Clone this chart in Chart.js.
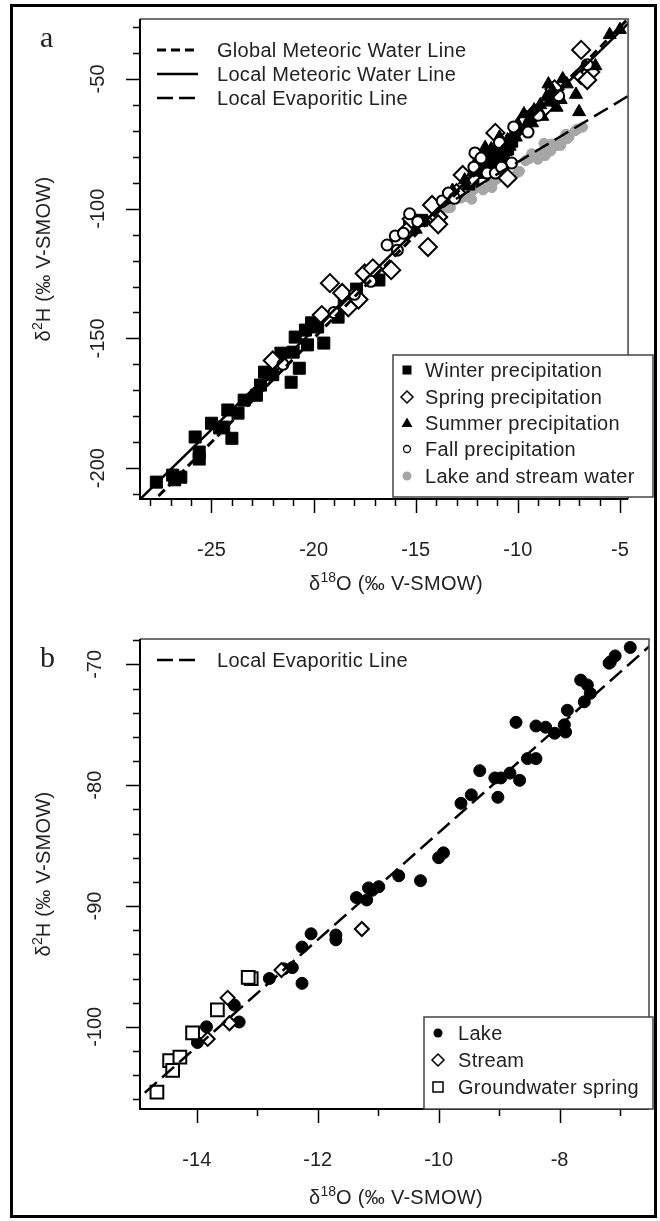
<!DOCTYPE html>
<html>
<head>
<meta charset="utf-8">
<script src="https://cdn.jsdelivr.net/npm/chart.js@4.4.1/dist/chart.umd.min.js"></script>
<style>
  body { margin: 0; background: #fff; font-family: "Liberation Sans", Arial, sans-serif; color: #222; }
  #page { position: relative; width: 660px; height: 1221px; overflow: hidden; }
  #frame { position: absolute; left: 10px; top: 4px; width: 647px; height: 1214px; border: 3px solid #000; box-sizing: border-box; }
  canvas { position: absolute; left: 0; }
  svg { position: absolute; left: 0; top: 0; }
  .t { position: absolute; white-space: nowrap; font-size: 20px; line-height: 20px; letter-spacing: 0.3px; }
  .t sup { font-size: 14px; line-height: 0; vertical-align: 8px; letter-spacing: 0; }
  .letter { position: absolute; font-family: "Liberation Serif", "Times New Roman", serif; font-size: 30px; line-height: 30px; }
  .xt { transform: translateX(-50%); }
  .yt { transform: translate(-50%, -50%) rotate(-90deg); }
</style>
</head>
<body>
<div id="page">
  <canvas id="panelA" width="660" height="610" style="top:0"></canvas>
  <canvas id="panelB" width="660" height="601" style="top:620px"></canvas>
  <div id="frame"></div>

  <svg width="660" height="1221">
    <!-- panel a line legend -->
    <line x1="157" y1="50" x2="198" y2="50" stroke="#000" stroke-width="3" stroke-dasharray="9 5"/>
    <line x1="157" y1="74" x2="198" y2="74" stroke="#000" stroke-width="2.5"/>
    <line x1="157" y1="98" x2="198" y2="98" stroke="#000" stroke-width="2.5" stroke-dasharray="16 6"/>
    <!-- panel a symbol legend -->
    <rect x="393" y="355" width="260" height="142" fill="#fff" stroke="#444" stroke-width="1.5"/>
    <rect x="402.5" y="365.5" width="9" height="9" fill="#000"/>
    <path d="M407 391 L413 397 L407 403 L401 397 Z" fill="#fff" stroke="#000" stroke-width="1.5"/>
    <path d="M407 417.5 L412.5 427 L401.5 427 Z" fill="#000"/>
    <circle cx="407" cy="449" r="3.5" fill="#fff" stroke="#000" stroke-width="1.3"/>
    <circle cx="407" cy="476" r="4.5" fill="#a6a6a6"/>
    <!-- panel b line legend -->
    <line x1="157" y1="660" x2="198" y2="660" stroke="#000" stroke-width="2.5" stroke-dasharray="16 6"/>
    <!-- panel b symbol legend -->
    <rect x="424" y="1017" width="229" height="92" fill="#fff" stroke="#444" stroke-width="1.5"/>
    <circle cx="438" cy="1033" r="4.5" fill="#000"/>
    <path d="M438 1054 L444 1060 L438 1066 L432 1060 Z" fill="#fff" stroke="#000" stroke-width="1.5"/>
    <rect x="433" y="1082" width="10" height="10" fill="#fff" stroke="#000" stroke-width="1.5"/>
  </svg>

  <div class="letter" style="left:40px;top:22px">a</div>
  <div class="letter" style="left:40px;top:642px">b</div>

  <div class="t" style="left:217px;top:40px">Global Meteoric Water Line</div>
  <div class="t" style="left:217px;top:64px">Local Meteoric Water Line</div>
  <div class="t" style="left:217px;top:88px">Local Evaporitic Line</div>

  <div class="t" style="left:425px;top:360px">Winter precipitation</div>
  <div class="t" style="left:425px;top:387px">Spring precipitation</div>
  <div class="t" style="left:425px;top:413px">Summer precipitation</div>
  <div class="t" style="left:425px;top:439px">Fall precipitation</div>
  <div class="t" style="left:425px;top:466px">Lake and stream water</div>

  <div class="t" style="left:217px;top:650px">Local Evaporitic Line</div>
  <div class="t" style="left:458px;top:1023px">Lake</div>
  <div class="t" style="left:458px;top:1050px">Stream</div>
  <div class="t" style="left:458px;top:1077px">Groundwater spring</div>

  <div class="t xt" style="left:396px;top:573px">&delta;<sup>18</sup>O (&permil; V-SMOW)</div>
  <div class="t xt" style="left:396px;top:1187px">&delta;<sup>18</sup>O (&permil; V-SMOW)</div>
  <div class="t yt" style="left:43px;top:259px">&delta;<sup>2</sup>H (&permil; V-SMOW)</div>
  <div class="t yt" style="left:43px;top:874px">&delta;<sup>2</sup>H (&permil; V-SMOW)</div>
</div>

<script>
// [δ18O, δ2H] pairs

// panel a: precipitation by season
const winterPts = [
  [-27.7, -205.4], [-26.9, -202.7], [-26.5, -203.5], [-26.8, -204.5], [-25.8, -188.0],
  [-25.6, -193.8], [-25.6, -196.5], [-25.0, -182.7], [-24.6, -184.5], [-24.4, -184.2],
  [-24.2, -177.6], [-24.0, -188.5], [-23.7, -178.8], [-23.4, -173.8], [-22.8, -171.9],
  [-22.6, -168.0], [-22.4, -163.0], [-22.0, -164.0], [-21.6, -155.7], [-21.0, -155.3],
  [-20.9, -149.5], [-20.7, -161.5], [-21.1, -166.9], [-20.4, -146.8], [-20.1, -144.0],
  [-19.5, -151.8], [-19.8, -145.6], [-20.3, -152.5], [-18.8, -141.8], [-18.5, -136.4],
  [-17.9, -131.0], [-16.8, -127.5], [-15.3, -107.0], [-14.7, -104.5], [-12.4, -90.5],
  [-11.6, -83.0], [-11.2, -80.5], [-10.8, -79.0], [-9.8, -68.0], [-10.3, -74.0],
  [-11.9, -86.0], [-11.4, -85.0], [-11.0, -82.5], [-10.7, -80.5], [-12.2, -88.5],
  [-11.3, -78.5], [-10.5, -77.0]
];
const springPts = [
  [-22.0, -158.5], [-19.6, -141.0], [-19.2, -128.7], [-18.6, -132.5], [-18.3, -138.0],
  [-17.8, -135.0], [-17.5, -125.0], [-17.1, -123.0], [-16.2, -123.7], [-15.4, -108.5],
  [-15.2, -104.0], [-14.4, -114.8], [-14.2, -98.6], [-13.9, -103.2], [-13.9, -106.0],
  [-13.0, -94.0], [-12.3, -88.0], [-11.6, -81.0], [-11.1, -70.8], [-10.5, -88.2],
  [-10.0, -69.0], [-9.6, -66.0], [-9.2, -63.5], [-8.7, -61.0], [-6.9, -38.8],
  [-6.9, -48.5], [-6.45, -47.3], [-6.6, -50.4], [-8.2, -54.0], [-12.7, -87.0]
];
const summerPts = [
  [-5.0, -31.0], [-5.5, -33.0], [-7.15, -56.0], [-7.0, -62.7], [-7.6, -52.0],
  [-7.9, -58.0], [-8.3, -54.5], [-8.6, -57.0], [-8.9, -60.0], [-9.2, -62.0],
  [-9.4, -65.0], [-9.7, -63.5], [-10.0, -67.5], [-10.2, -71.0], [-10.5, -73.5],
  [-10.7, -76.0], [-10.9, -72.5], [-11.0, -78.0], [-11.3, -77.0], [-11.4, -81.5],
  [-11.7, -84.5], [-11.9, -80.0], [-12.2, -86.0], [-12.6, -89.0], [-13.2, -93.0],
  [-13.6, -96.5], [-15.0, -108.0], [-6.2, -45.0],
  [-11.8, -82.0], [-11.5, -79.0], [-11.2, -83.0], [-10.9, -81.0], [-10.6, -78.0],
  [-11.6, -76.5], [-12.0, -83.0], [-10.4, -76.0], [-10.1, -72.5], [-9.9, -70.0],
  [-9.6, -68.0], [-9.3, -67.0], [-9.0, -63.0], [-8.8, -64.5], [-8.4, -59.0],
  [-8.1, -61.0], [-8.5, -52.0], [-7.8, -50.0]
];
const fallPts = [
  [-21.5, -160.0], [-19.0, -140.0], [-18.0, -133.0], [-17.2, -128.0], [-16.4, -114.0],
  [-16.0, -110.5], [-15.9, -116.0], [-15.6, -109.5], [-15.3, -102.0], [-14.9, -105.0],
  [-13.7, -97.0], [-13.4, -94.0], [-13.1, -96.0], [-12.15, -84.0], [-11.5, -86.3],
  [-11.1, -86.3], [-10.3, -82.4], [-12.1, -78.5], [-10.9, -74.5], [-10.2, -68.5],
  [-9.0, -64.0], [-8.0, -56.5], [-6.6, -44.5], [-11.8, -80.5], [-10.8, -84.0],
  [-9.5, -70.5]
];

// panel b: surface and ground water
const lakePts = [
  [-6.83, -68.6], [-7.08, -69.3], [-7.16, -69.8], [-7.18, -69.9], [-7.65, -71.3],
  [-7.54, -71.7], [-7.49, -72.4], [-7.59, -73.1], [-7.87, -73.8], [-8.72, -74.8],
  [-8.39, -75.1], [-8.23, -75.2], [-8.08, -75.7], [-7.92, -75.0], [-7.90, -75.6],
  [-8.53, -77.8], [-8.39, -77.8], [-9.32, -78.8], [-9.07, -79.4], [-8.97, -79.4],
  [-8.82, -79.0], [-8.66, -79.6], [-9.02, -81.0], [-9.63, -81.5], [-9.46, -80.8],
  [-10.0, -86.0], [-9.92, -85.6], [-10.66, -87.5], [-10.3, -87.9], [-11.16, -88.5],
  [-10.99, -88.4], [-11.36, -89.3], [-11.19, -89.5], [-11.1, -88.7], [-12.11, -92.3],
  [-11.7, -92.4], [-11.7, -92.8], [-12.26, -93.4], [-12.42, -95.1], [-12.56, -95.2],
  [-12.8, -96.0], [-12.26, -96.4], [-13.38, -98.2], [-13.3, -99.6], [-13.84, -100.0],
  [-13.99, -101.3]
];
const streamPts = [
  [-11.27, -91.9], [-12.6, -95.3], [-13.49, -97.6], [-13.46, -99.7], [-13.82, -101.0]
];
const springWaterPts = [
  [-13.1, -96.0], [-13.15, -95.9], [-13.66, -98.6], [-14.07, -100.5], [-14.45, -102.8],
  [-14.28, -102.5], [-14.4, -103.6], [-14.66, -105.4]
];

// reference lines, end points read where they leave the plot
const gmwlPts = [[-30, -230], [-3, -14]];
const lmwlPts = [[-30, -223.5], [-3, -16.4]];
const lelPtsA = [[-14, -100.8], [-3, -49.1]];
const lelPtsB = [[-16, -110.5], [-5, -61.8]];

// axes
const xRangeA = [-28.5, -4.6];
const yRangeA = [-211.9, -26.9];
const xLabelsA = [-25, -20, -15, -10, -5];
const xMinorA = [-28, -27, -26, -25, -24, -23, -22, -21, -20, -19, -18, -17, -16, -15, -14, -13, -12, -11, -10, -9, -8, -7, -6, -5];
const yLabelsA = [-50, -100, -150, -200];
const yMinorA = [-30, -40, -50, -60, -70, -80, -90, -100, -110, -120, -130, -140, -150, -160, -170, -180, -190, -200, -210];

const xRangeB = [-14.94, -6.52];
const yRangeB = [-106.8, -67.9];
const xLabelsB = [-14, -12, -10, -8];
const xMinorB = [-14, -13, -12, -11, -10, -9, -8, -7];
const yLabelsB = [-70, -80, -90, -100];
const yMinorB = [-68, -70, -72, -74, -76, -78, -80, -82, -84, -86, -88, -90, -92, -94, -96, -98, -100, -102, -104, -106];

const FONT = '"Liberation Sans", Arial, sans-serif';
const toXY = pts => pts.map(([x, y]) => ({ x, y }));

// R-style axes: long major ticks, short minor ticks, y labels turned upright
const rAxes = {
  id: 'rAxes',
  afterDraw(chart, args, opts) {
    const { ctx, chartArea: a, scales: { x, y } } = chart;
    ctx.save();
    ctx.strokeStyle = '#444';
    ctx.lineWidth = 1.5;
    ctx.beginPath();
    ctx.moveTo(a.left, a.top);
    ctx.lineTo(a.right, a.top);
    ctx.lineTo(a.right, a.bottom);
    ctx.stroke();

    ctx.strokeStyle = '#000';
    ctx.lineWidth = 2;
    ctx.beginPath();
    ctx.moveTo(a.left, a.top);
    ctx.lineTo(a.left, a.bottom);
    ctx.lineTo(a.right, a.bottom);
    ctx.stroke();

    ctx.lineWidth = 1.5;
    ctx.beginPath();
    opts.xMinor.forEach(v => {
      const px = Math.round(x.getPixelForValue(v)) + 0.5;
      const len = opts.xMajor.includes(v) ? 14 : 7;
      ctx.moveTo(px, a.bottom);
      ctx.lineTo(px, a.bottom + len);
    });
    opts.yMinor.forEach(v => {
      const py = Math.round(y.getPixelForValue(v)) + 0.5;
      const len = opts.yMajor.includes(v) ? 14 : 7;
      ctx.moveTo(a.left, py);
      ctx.lineTo(a.left - len, py);
    });
    ctx.stroke();

    ctx.fillStyle = '#222';
    ctx.font = '20px ' + FONT;
    ctx.textAlign = 'center';
    ctx.textBaseline = 'middle';
    opts.yMajor.forEach(v => {
      ctx.save();
      ctx.translate(opts.yLabelX, y.getPixelForValue(v));
      ctx.rotate(-Math.PI / 2);
      ctx.fillText(String(v), 0, 0);
      ctx.restore();
    });
    ctx.restore();
  }
};

function lineSet(pts, dash, width) {
  return {
    data: toXY(pts),
    showLine: true,
    borderColor: '#000',
    borderWidth: width,
    borderDash: dash,
    pointRadius: 0,
    order: 0
  };
}

function pointSet(pts, style, radius, fill, border, order) {
  return {
    data: toXY(pts),
    showLine: false,
    pointStyle: style,
    pointRadius: radius,
    backgroundColor: fill,
    borderColor: border,
    borderWidth: fill === '#fff' ? 2 : 1,
    order
  };
}

function buildPanel(canvas, datasets, ax) {
  return new Chart(canvas, {
    type: 'scatter',
    data: { datasets },
    plugins: [rAxes],
    options: {
      responsive: false,
      animation: false,
      events: [],
      layout: { padding: { left: 0, right: 8, top: 19, bottom: 0 } },
      plugins: {
        legend: { display: false },
        tooltip: { enabled: false },
        rAxes: ax
      },
      scales: {
        x: {
          type: 'linear',
          min: ax.xRange[0],
          max: ax.xRange[1],
          grid: { display: false },
          border: { display: false },
          afterBuildTicks: s => { s.ticks = ax.xMajor.map(v => ({ value: v })); },
          afterFit: s => { s.height = ax.xHeight; },
          ticks: {
            autoSkip: false,
            maxRotation: 0,
            padding: 31,
            color: '#222',
            font: { family: FONT, size: 20 },
            callback: v => String(v)
          }
        },
        y: {
          type: 'linear',
          min: ax.yRange[0],
          max: ax.yRange[1],
          grid: { display: false },
          border: { display: false },
          ticks: { display: false },
          afterFit: s => { s.width = 140; }
        }
      }
    }
  });
}

buildPanel(document.getElementById('panelA'), [
  lineSet(gmwlPts, [9, 5], 3),
  lineSet(lmwlPts, [], 2.5),
  lineSet(lelPtsA, [16, 7], 2.5),
  pointSet(fallPts, 'circle', 5.5, '#fff', '#000', 2),
  pointSet(summerPts, 'triangle', 7.5, '#000', '#000', 3),
  pointSet(springPts, 'rectRot', 9, '#fff', '#000', 4),
  pointSet(winterPts, 'rect', 8.5, '#000', '#000', 5),
  pointSet(lakePts.concat(streamPts), 'circle', 5, '#a6a6a6', '#a6a6a6', 6)
], {
  xRange: xRangeA, yRange: yRangeA,
  xMajor: xLabelsA, xMinor: xMinorA,
  yMajor: yLabelsA, yMinor: yMinorA,
  yLabelX: 98, xHeight: 111
});

buildPanel(document.getElementById('panelB'), [
  lineSet(lelPtsB, [16, 7], 2.5),
  pointSet(springWaterPts, 'rect', 9, '#fff', '#000', 1),
  pointSet(streamPts, 'rectRot', 7, '#fff', '#000', 2),
  pointSet(lakePts, 'circle', 6, '#000', '#000', 3)
], {
  xRange: xRangeB, yRange: yRangeB,
  xMajor: xLabelsB, xMinor: xMinorB,
  yMajor: yLabelsB, yMinor: yMinorB,
  yLabelX: 95, xHeight: 112
});
</script>
</body>
</html>
